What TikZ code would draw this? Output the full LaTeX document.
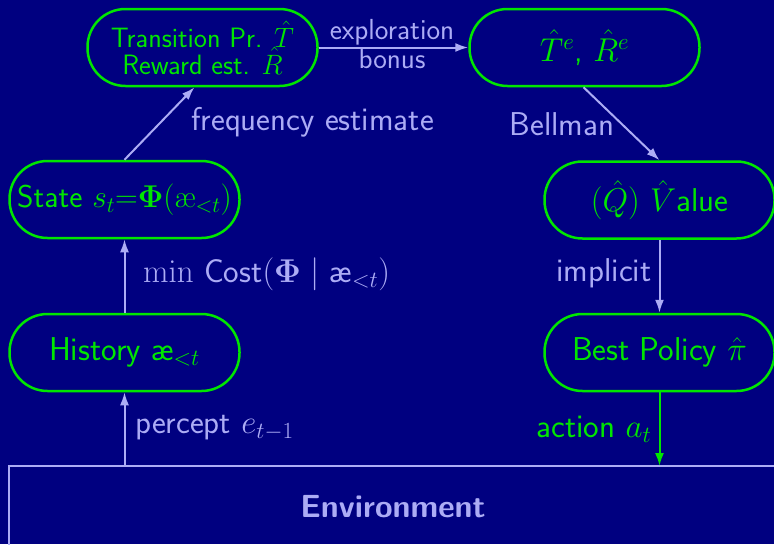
\documentclass[tikz,border=0pt]{standalone}
\usepackage{fix-cm}
\usetikzlibrary{arrows.meta}
\definecolor{navy}{RGB}{0,0,128}
\definecolor{grn}{RGB}{0,230,0}
\definecolor{lav}{RGB}{172,172,245}
\tikzset{
  pill/.style={draw=grn, line width=2.5pt, rounded corners=38pt, minimum width=230pt, minimum height=77pt, text=grn, font=\sffamily\fontsize{33}{36}\selectfont, inner sep=0pt},
  smallpill/.style={pill, font=\sffamily\fontsize{28}{18}\selectfont, align=center},
  conn/.style={draw=lav, line width=2pt, -{Latex[length=13pt,width=9pt]}},
  gconn/.style={draw=grn, line width=2pt, -{Latex[length=13pt,width=9pt]}},
  lbl/.style={text=lav, font=\sffamily\fontsize{33}{36}\selectfont, inner sep=0pt},
  slbl/.style={text=lav, font=\sffamily\fontsize{29}{30}\selectfont, inner sep=0pt},
}
\begin{document}
\begin{tikzpicture}[x=1pt,y=-1pt]
\fill[navy] (0,0) rectangle (774,544);
\clip (0,0) rectangle (774,544);
\useasboundingbox (0,0) rectangle (774,544);
% nodes
\node[smallpill] (trans) at (202.5,47.5) {Transition Pr. $\hat T$\\[-1pt]Reward est. $\hat R$};
\node[pill] (te) at (584.5,47.5) {$\hat T^e$, $\hat R^e$};
\node[pill, font=\sffamily\fontsize{31.5}{34}\selectfont] (state) at (124.5,199.5) {State $s_t{=}\mathbf{\Phi}(\textrm{æ}_{<t})$};
\node[pill] (value) at (659.5,200) {$(\hat Q)$ $\hat V$alue};
\node[pill] (hist) at (124.5,352.5) {History æ$_{<t}$};
\node[pill] (pol) at (659.5,352.5) {Best Policy $\hat\pi$};
\draw[lav, line width=2pt] (9,466) rectangle (800,580);
\coordinate (envL) at (124.5,466);
\coordinate (envR) at (659.5,466);
\node[text=lav, font=\sffamily\bfseries\fontsize{32}{34}\selectfont, inner sep=0pt] (env) at (393,507) {Environment};
% connectors
\draw[conn] (envL) -- (hist.south);
\draw[conn] (hist.north) -- (state.south);
\draw[conn] (state.north) -- ([xshift=-8pt]trans.south);
\draw[conn] (trans.east) -- (te.west);
\draw[conn] ([xshift=-1pt]te.south) -- (value.north);
\draw[conn] (value.south) -- (pol.north);
\draw[gconn] (pol.south) -- (envR);
% labels
\node[lbl, anchor=west] (lcost) at (143,274) {$\min$ Cost$(\mathbf{\Phi}\mid$ æ$_{<t})$};
\node[lbl] (lfreq) at (312.5,122) {frequency estimate};
\node[slbl] (lexp) at (392,32) {exploration};
\node[slbl] (lbon) at (392,59) {bonus};
\node[lbl] (lbell) at (562,124) {Bellman};
\node[lbl] (limp) at (604,273) {implicit};
\node[lbl, text=grn] (lact) at (594,429) {action $a_t$};
\node[lbl, anchor=west] (lper) at (135,428) {percept $e_{t-1}$};
\end{tikzpicture}
\end{document}
